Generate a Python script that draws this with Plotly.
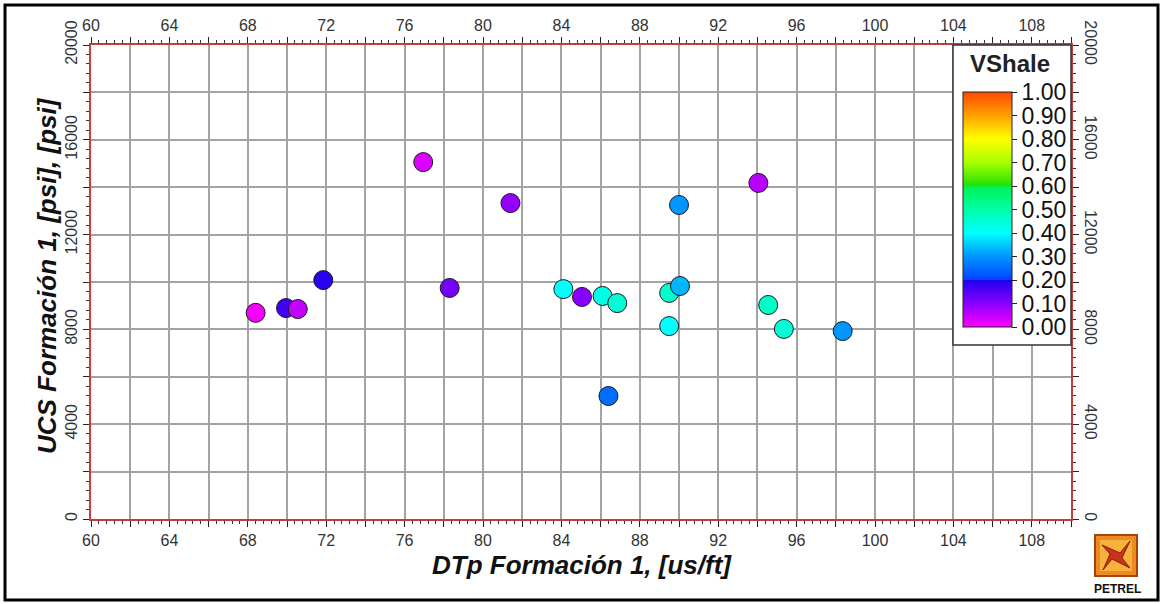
import plotly.graph_objects as go

# ---- data ----
dtp = [68.4, 69.95, 70.55, 71.85, 76.95, 78.3, 81.4, 84.1, 85.05, 86.1,
       86.85, 86.4, 89.5, 89.5, 90.05, 90.0, 94.05, 94.55, 95.35, 98.35]
ucs = [8700, 8900, 8860, 10080, 15060, 9750, 13330, 9700, 9370, 9410,
       9110, 5190, 8140, 9540, 9830, 13250, 14180, 9030, 8020, 7930]
vshale = [0.01, 0.17, 0.05, 0.19, 0.03, 0.12, 0.09, 0.40, 0.10, 0.43,
          0.45, 0.25, 0.40, 0.46, 0.33, 0.30, 0.06, 0.46, 0.45, 0.30]

x_ticks = list(range(60, 112, 2))
x_labels = [str(v) if v % 4 == 0 and v <= 108 else "" for v in x_ticks]
y_ticks = list(range(0, 22000, 2000))
y_labels = [str(v) if v % 4000 == 0 else "" for v in y_ticks]
cb_ticks = [i / 10 for i in range(11)]

colorscale = [
    [0.0, "#FF00FF"], [0.1, "#8800FF"], [0.2, "#2000F0"], [0.2, "#0044FF"],
    [0.3, "#0095FF"], [0.4, "#00FFFF"], [0.5, "#00FFA8"], [0.6, "#00F050"],
    [0.6, "#20E000"], [0.7, "#A8FF00"], [0.8, "#FFFF00"], [0.9, "#FFA000"],
    [1.0, "#FF4A00"],
]

# ---- layout geometry (pixels) ----
W, H = 1163, 604
L, R, T, B = 91, 1071, 45, 519
PW, PH = R - L, B - T


def px(xp):
    return (xp - L) / PW


def py(yp):
    return (B - yp) / PH


fig = go.Figure()
fig.add_trace(go.Scatter(
    x=dtp, y=ucs, mode="markers", hoverinfo="x+y",
    marker=dict(
        size=19, color=vshale, cmin=0, cmax=1, colorscale=colorscale,
        line=dict(color="#1a1a1a", width=1),
        colorbar=dict(
            thickness=49, thicknessmode="pixels",
            len=235, lenmode="pixels",
            x=px(963), xanchor="left", xpad=0,
            y=py(209.5), yanchor="middle", ypad=0,
            outlinecolor="#222", outlinewidth=1,
            tickvals=cb_ticks, ticktext=[f"{v:.2f}" for v in cb_ticks],
            ticks="outside", ticklen=5, tickcolor="#222",
            tickfont=dict(family="Arial", size=23, color="#111"),
            bgcolor="rgba(0,0,0,0)", borderwidth=0,
        ),
    ),
    showlegend=False,
))
# invisible copy so the top and right axes are drawn
fig.add_trace(go.Scatter(
    x=dtp, y=ucs, mode="markers", xaxis="x2", yaxis="y2",
    marker=dict(size=1, opacity=0), hoverinfo="skip", showlegend=False,
))

axis_font = dict(family="Arial", size=16, color="#333")
red = "#C43C3C"
common = dict(showline=True, linecolor=red, linewidth=1.5, ticks="outside",
              ticklen=6, tickcolor="#222", tickwidth=1, tickfont=axis_font,
              zeroline=False)
xminor = dict(dtick=0.4, tick0=60, ticks="outside", ticklen=3,
              tickcolor="#333", showgrid=False)
yminor = dict(dtick=400, tick0=0, ticks="outside", ticklen=3,
              tickcolor="#333", showgrid=False)

fig.update_layout(
    width=W, height=H,
    margin=dict(l=L, r=W - R, t=T, b=H - B, pad=0),
    paper_bgcolor="white", plot_bgcolor="white",
    xaxis=dict(range=[60, 110], tickvals=x_ticks, ticktext=x_labels,
               showgrid=True, gridcolor="#A3A3A3", gridwidth=1.6,
               minor=xminor, **common),
    xaxis2=dict(range=[60, 110], tickvals=x_ticks, ticktext=x_labels,
                overlaying="x", anchor="y2", side="top",
                showgrid=False, minor=xminor, **common),
    yaxis=dict(range=[0, 20000], tickvals=y_ticks, ticktext=y_labels,
               showgrid=True, gridcolor="#A3A3A3", gridwidth=1.6,
               minor=yminor, tickangle=-90, **common),
    yaxis2=dict(range=[0, 20000], tickvals=y_ticks, ticktext=y_labels,
                overlaying="y", anchor="x2", side="right",
                showgrid=False, minor=yminor, tickangle=90, **common),
)

title_font = dict(family="Arial", size=26, color="#111", weight="bold", style="italic")
fig.add_annotation(
    text="DTp Formación 1, [us/ft]", xref="paper", yref="paper",
    x=px(582), y=py(565), showarrow=False, font=title_font,
    xanchor="center", yanchor="middle",
)
fig.add_annotation(
    text="UCS Formación 1, [psi], [psi]", xref="paper", yref="paper",
    x=px(47), y=py(276), showarrow=False, font=title_font, textangle=-90,
    xanchor="center", yanchor="middle",
)
fig.add_annotation(
    text="<b>VShale</b>", xref="paper", yref="paper",
    x=px(1010), y=py(64), showarrow=False,
    font=dict(family="Arial", size=24, color="#222"),
    xanchor="center", yanchor="middle",
)
fig.add_annotation(
    text="<b>PETREL</b>", xref="paper", yref="paper",
    x=px(1117), y=py(589), showarrow=False,
    font=dict(family="Arial Black, Arial", size=12, color="#111"),
    xanchor="center", yanchor="middle",
)

shapes = [
    # legend box behind colour bar
    dict(type="rect", xref="paper", yref="paper", layer="above",
         x0=px(953), x1=px(1071), y0=py(345), y1=py(45),
         fillcolor="white", line=dict(color="#333", width=1.5)),
    # outer frame
    dict(type="rect", xref="paper", yref="paper", layer="above",
         x0=px(5), x1=px(1158), y0=py(600), y1=py(5),
         fillcolor="rgba(0,0,0,0)", line=dict(color="black", width=3)),
    # petrel logo square
    dict(type="rect", xref="paper", yref="paper", layer="above",
         x0=px(1095), x1=px(1137), y0=py(576), y1=py(535),
         fillcolor="#EE8A22", line=dict(color="#A8420E", width=2)),
    dict(type="rect", xref="paper", yref="paper", layer="above",
         x0=px(1100), x1=px(1132), y0=py(571), y1=py(540),
         fillcolor="#F6B23A", line=dict(width=0)),
    dict(type="path", xref="paper", yref="paper", layer="above",
         path=(f"M {px(1102)} {py(545)} L {px(1120)} {py(553)} L {px(1130)} {py(541)} "
               f"L {px(1122)} {py(558)} L {px(1130)} {py(568)} L {px(1112)} {py(559)} "
               f"L {px(1103)} {py(570)} L {px(1110)} {py(554)} Z"),
         fillcolor="#C8321A", line=dict(color="#8A1E0E", width=1)),
]
fig.update_layout(shapes=shapes)

fig.write_html(
    "out.html",
    config={"displayModeBar": False},
    post_script="document.body.style.margin='0';document.body.style.overflow='hidden';",
)
